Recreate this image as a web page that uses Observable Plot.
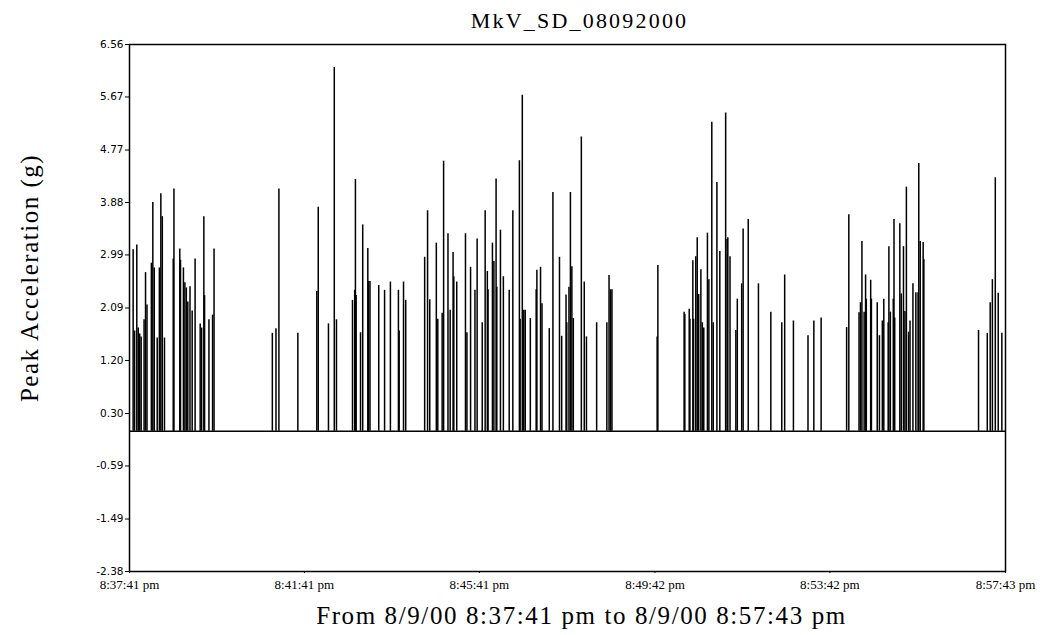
<!DOCTYPE html>
<html>
<head>
<meta charset="utf-8">
<script src="https://cdn.jsdelivr.net/npm/d3@7"></script>
<script src="https://cdn.jsdelivr.net/npm/@observablehq/plot@0.6"></script>
<style>
  body { margin: 0; background: #fff; }
</style>
</head>
<body>
<div id="chart"></div>
<script>
// ---- data ----
const chartTitle = "MkV_SD_08092000";
const xTitle = "From 8/9/00 8:37:41 pm to 8/9/00 8:57:43 pm";
const yTitle = "Peak Acceleration (g)";
const startTime = "2000-08-09T20:37:41Z";
const endTime = "2000-08-09T20:57:43Z";
const xTickTimes = ["2000-08-09T20:37:41Z", "2000-08-09T20:41:41Z", "2000-08-09T20:45:41Z",
                    "2000-08-09T20:49:42Z", "2000-08-09T20:53:42Z", "2000-08-09T20:57:43Z"];
const xTickLabels = ["8:37:41 pm", "8:41:41 pm", "8:45:41 pm", "8:49:42 pm", "8:53:42 pm", "8:57:43 pm"];
const yTicks = [6.56, 5.67, 4.77, 3.88, 2.99, 2.09, 1.20, 0.30, -0.59, -1.49, -2.38];
const yTickLabels = ["6.56", "5.67", "4.77", "3.88", "2.99", "2.09", "1.20", "0.30", "-0.59", "-1.49", "-2.38"];

// event time, seconds after 8:37:41 pm
const eventSeconds = [
  5, 7, 10, 12, 14, 16, 20, 22, 24, 30, 32, 34, 38, 41, 43, 45, 48, 60, 61, 69, 70, 74, 76, 78, 80, 83, 86, 90, 97, 99, 102, 103, 109, 114, 116,
  196, 201, 205, 231, 257, 259, 273, 281, 284, 306, 309, 310, 311, 317, 320, 327, 328, 330, 342, 350, 358, 369, 370, 376, 379,
  405, 409, 412, 421, 423, 429, 431, 437, 440, 444, 445, 449, 461, 463, 468, 474, 477, 484, 488, 491, 492, 498, 500, 503, 504, 509, 513,
  521, 526, 535, 536, 539, 541, 543, 550, 558, 559, 564, 566, 576, 581, 590, 593, 599, 600, 603, 605, 607, 609, 620, 624, 627,
  641, 655, 658, 660, 662,
  724, 725, 761, 762, 768, 769, 773, 774, 777, 779, 781, 784, 786, 788, 793, 795, 799, 801, 806, 810, 818, 820, 821, 824, 832, 834, 840, 842, 849,
  863, 880, 895, 899, 911, 931, 939, 949,
  984, 987, 1001, 1003, 1005, 1008, 1010, 1011, 1017, 1018, 1026, 1029, 1033, 1035, 1041, 1042, 1044, 1048, 1049, 1050, 1057, 1059, 1062, 1064, 1066, 1069, 1071, 1075, 1079, 1082, 1083, 1085, 1089, 1090,
  1165, 1177, 1181, 1184, 1188, 1192, 1197
];
// peak acceleration (g)
const peakValues = [
  3.08, 1.70, 3.16, 1.75, 1.65, 1.60, 1.89, 2.69, 2.14, 2.85, 3.88, 2.77, 1.58, 2.77, 4.03, 3.64, 1.58, 2.92, 4.11, 3.09, 2.90, 2.77, 2.52, 2.43, 2.19, 2.45, 2.04, 2.92, 1.82, 1.75, 3.64, 2.30, 1.89, 1.97, 3.09,
  1.66, 1.74, 4.11, 1.66, 2.37, 3.80, 1.82, 6.17, 1.89, 2.22, 2.39, 4.27, 2.30, 1.67, 3.50, 3.10, 2.54, 2.54, 2.47, 2.39, 2.53, 2.39, 1.70, 2.53, 2.22,
  2.95, 3.74, 2.23, 3.19, 1.90, 2.00, 4.58, 3.35, 2.05, 3.03, 2.62, 2.53, 3.35, 1.67, 2.78, 2.39, 3.26, 1.84, 3.74, 2.71, 2.40, 3.19, 2.88, 4.28, 2.44, 3.41, 2.62,
  2.39, 3.74, 4.59, 1.90, 5.70, 2.05, 2.05, 1.91, 2.40, 2.73, 2.78, 2.16, 1.74, 4.05, 2.95, 1.61, 2.31, 1.84, 2.44, 4.05, 2.79, 1.91, 4.99, 2.53, 1.60,
  1.84, 1.84, 2.64, 2.40, 2.40,
  1.60, 2.81, 2.02, 1.98, 2.07, 1.90, 2.89, 1.90, 2.96, 3.28, 2.32, 2.74, 1.84, 1.75, 3.36, 2.57, 5.24, 1.84, 4.22, 3.05, 5.40, 3.25, 3.28, 2.96, 1.71, 2.24, 2.50, 3.43, 3.59,
  2.50, 2.02, 1.84, 2.65, 1.87, 1.62, 1.87, 1.92,
  1.76, 3.67, 2.01, 2.18, 3.22, 2.02, 2.65, 2.24, 2.56, 2.24, 2.18, 1.62, 1.87, 2.24, 1.84, 3.13, 2.02, 2.24, 3.59, 1.92, 3.52, 2.33, 3.13, 2.03, 4.14, 1.68, 1.87, 2.50, 2.35, 2.35, 4.54, 3.22, 3.20, 2.91,
  1.71, 1.66, 2.18, 2.57, 4.30, 2.34, 1.66
];

// ---- build ----
const t0 = new Date(startTime);
const t1 = new Date(endTime);
const events = eventSeconds.map((s, i) => ({time: new Date(t0.getTime() + s * 1000), peak: peakValues[i]}));
const xTickDates = xTickTimes.map(s => new Date(s));
const xLabelOf = new Map(xTickDates.map((d, i) => [d.getTime(), xTickLabels[i]]));
const yLabelOf = new Map(yTicks.map((v, i) => [v, yTickLabels[i]]));

const chart = Plot.plot({
  width: 1042,
  height: 635,
  marginLeft: 129,
  marginRight: 37,
  marginTop: 44,
  marginBottom: 64,
  style: {fontFamily: "DejaVu Sans", fontSize: "11px", color: "#000", background: "#fff"},
  x: {type: "utc", domain: [t0, t1]},
  y: {domain: [yTicks[yTicks.length - 1], yTicks[0]]},
  marks: [
    Plot.ruleX(events, {x: "time", y1: 0, y2: "peak", stroke: "#000", strokeWidth: 1.5}),
    Plot.ruleY([0], {stroke: "#000", strokeWidth: 1.5}),
    Plot.frame({stroke: "#000", strokeWidth: 1.5}),
    Plot.axisY({ticks: yTicks, tickFormat: d => yLabelOf.get(d), tickSize: 4, tickPadding: 2,
                label: null, fontSize: 10.5, fontFamily: "DejaVu Sans"}),
    Plot.axisX({ticks: xTickDates, tickFormat: d => xLabelOf.get(d.getTime()), tickSize: 2, tickPadding: 6,
                label: null, fontSize: 13, fontFamily: "Liberation Serif"}),
    Plot.text([chartTitle], {text: d => d, frameAnchor: "top", lineAnchor: "middle", textAnchor: "middle",
                dy: -24, dx: 12, fontSize: 22, fontFamily: "Liberation Serif"}),
    Plot.text([xTitle], {text: d => d, frameAnchor: "bottom", lineAnchor: "middle", textAnchor: "middle",
                dy: 44, dx: 14, fontSize: 25, fontFamily: "Liberation Serif"}),
    Plot.text([yTitle], {text: d => d, frameAnchor: "left", lineAnchor: "middle", textAnchor: "middle",
                dx: -100, dy: -30, rotate: -90, fontSize: 25, fontFamily: "Liberation Serif"})
  ]
});
document.getElementById("chart").appendChild(chart);

// letter spacing of the spaced-out serif titles
const spacing = new Map([[chartTitle, "2.2px"], [xTitle, "1.6px"], [yTitle, "1.5px"]]);
d3.select(chart).selectAll("text").each(function () {
  const s = spacing.get(this.textContent);
  if (s) this.style.letterSpacing = s;
});
</script>
</body>
</html>
